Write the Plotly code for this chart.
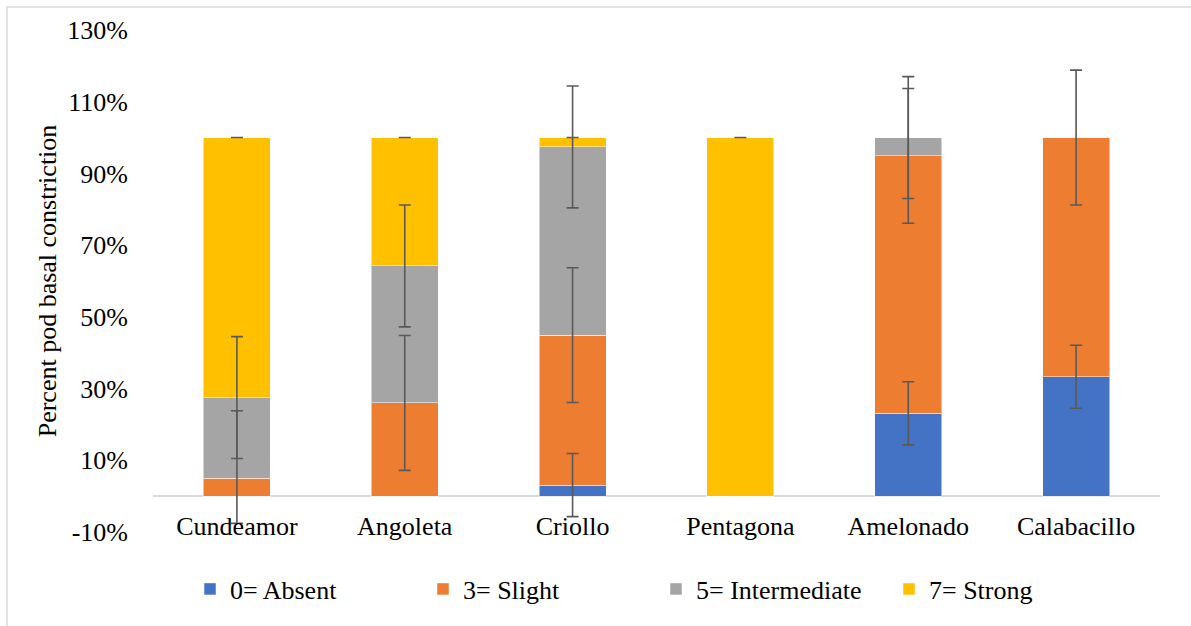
import plotly.graph_objects as go

categories = ["Cundeamor", "Angoleta", "Criollo", "Pentagona", "Amelonado", "Calabacillo"]
series_names = ["0= Absent", "3= Slight", "5= Intermediate", "7= Strong"]
absent = [0, 0, 3.1, 0, 23.1, 33.3]
slight = [5.0, 26.0, 41.8, 0, 71.8, 66.7]
intermediate = [22.5, 38.2, 52.5, 0, 5.1, 0]
strong = [72.5, 35.8, 2.6, 100, 0, 0]
err_absent = [None, None, 8.8, None, 8.8, 8.8]
err_slight_plus = [18.8, 18.8, 18.8, None, 18.8, 18.8]
err_slight_minus = [12.6, 18.8, 18.8, None, 18.8, 18.8]
err_intermediate = [17.0, 17.0, 17.0, None, 17.0, None]
err_strong = [0, 0, 0, 0, None, None]
y_ticks = [-10, 10, 30, 50, 70, 90, 110, 130]

colors = ["#4472C4", "#ED7D31", "#A5A5A5", "#FFC000"]
FONT = "Times New Roman, Liberation Serif, serif"
EB = dict(color="#595959", thickness=1.6, width=6)

series_vals = [absent, slight, intermediate, strong]
series_errs = [err_absent, err_slight_plus, err_intermediate, err_strong]
series_err = [
    dict(type="data", array=err_absent, **EB),
    dict(type="data", array=err_slight_plus, arrayminus=err_slight_minus, symmetric=False, **EB),
    dict(type="data", array=err_intermediate, **EB),
    dict(type="data", array=err_strong, **EB),
]

fig = go.Figure()
for name, vals, col in zip(series_names, series_vals, colors):
    fig.add_trace(go.Bar(
        x=categories, y=vals, name=name,
        marker=dict(color=col, line=dict(color="rgba(255,255,255,0.5)", width=1)),
    ))

# error bars drawn on top of all bars, at the cumulative (stacked) top of each segment
running = [0.0] * len(categories)
for vals, errs, err in zip(series_vals, series_errs, series_err):
    running = [r + v for r, v in zip(running, vals)]
    ypos = [r if e is not None else None for r, e in zip(running, errs)]
    fig.add_trace(go.Scatter(
        x=categories, y=ypos, mode="markers",
        marker=dict(size=1, opacity=0), error_y=err,
        showlegend=False, hoverinfo="skip",
    ))

W, H = 1191, 626
L, R, T, B = 153, 31, 30, 94
pw, ph = W - L - R, H - T - B

def px_x(x):
    return (x - L) / pw

def px_y(y):
    return (H - B - y) / ph

fig.update_layout(
    width=W, height=H,
    barmode="stack", bargap=0.6,
    plot_bgcolor="white", paper_bgcolor="white",
    margin=dict(l=L, r=R, t=T, b=B),
    font=dict(family=FONT, size=26, color="black"),
    xaxis=dict(
        anchor="free", position=px_y(508),
        showline=False, showgrid=False, ticks="",
        tickfont=dict(family=FONT, size=26, color="black"),
    ),
    yaxis=dict(
        range=[-10, 130], tickvals=y_ticks,
        ticktext=[f"{v}%" for v in y_ticks],
        showgrid=False, zeroline=True, zerolinecolor="#d9d9d9", zerolinewidth=1.5,
        showline=False, ticks="", ticklabelstandoff=24,
        tickfont=dict(family=FONT, size=26, color="black"),
        title=dict(text="Percent pod basal constriction", standoff=3,
                   font=dict(family=FONT, size=26, color="black")),
    ),
    legend=dict(
        orientation="h", x=px_x(190), xanchor="left",
        y=px_y(589), yanchor="middle",
        entrywidth=188, entrywidthmode="pixels",
        font=dict(family=FONT, size=26, color="black"),
        traceorder="normal",
    ),
    shapes=[dict(type="rect", xref="paper", yref="paper",
                 x0=px_x(7), x1=px_x(1300), y0=px_y(700), y1=px_y(7),
                 line=dict(color="#d9d9d9", width=1.5), layer="below")],
)

fig.write_html("out.html", config={"displayModeBar": False},
               post_script="document.body.style.margin='0';")
